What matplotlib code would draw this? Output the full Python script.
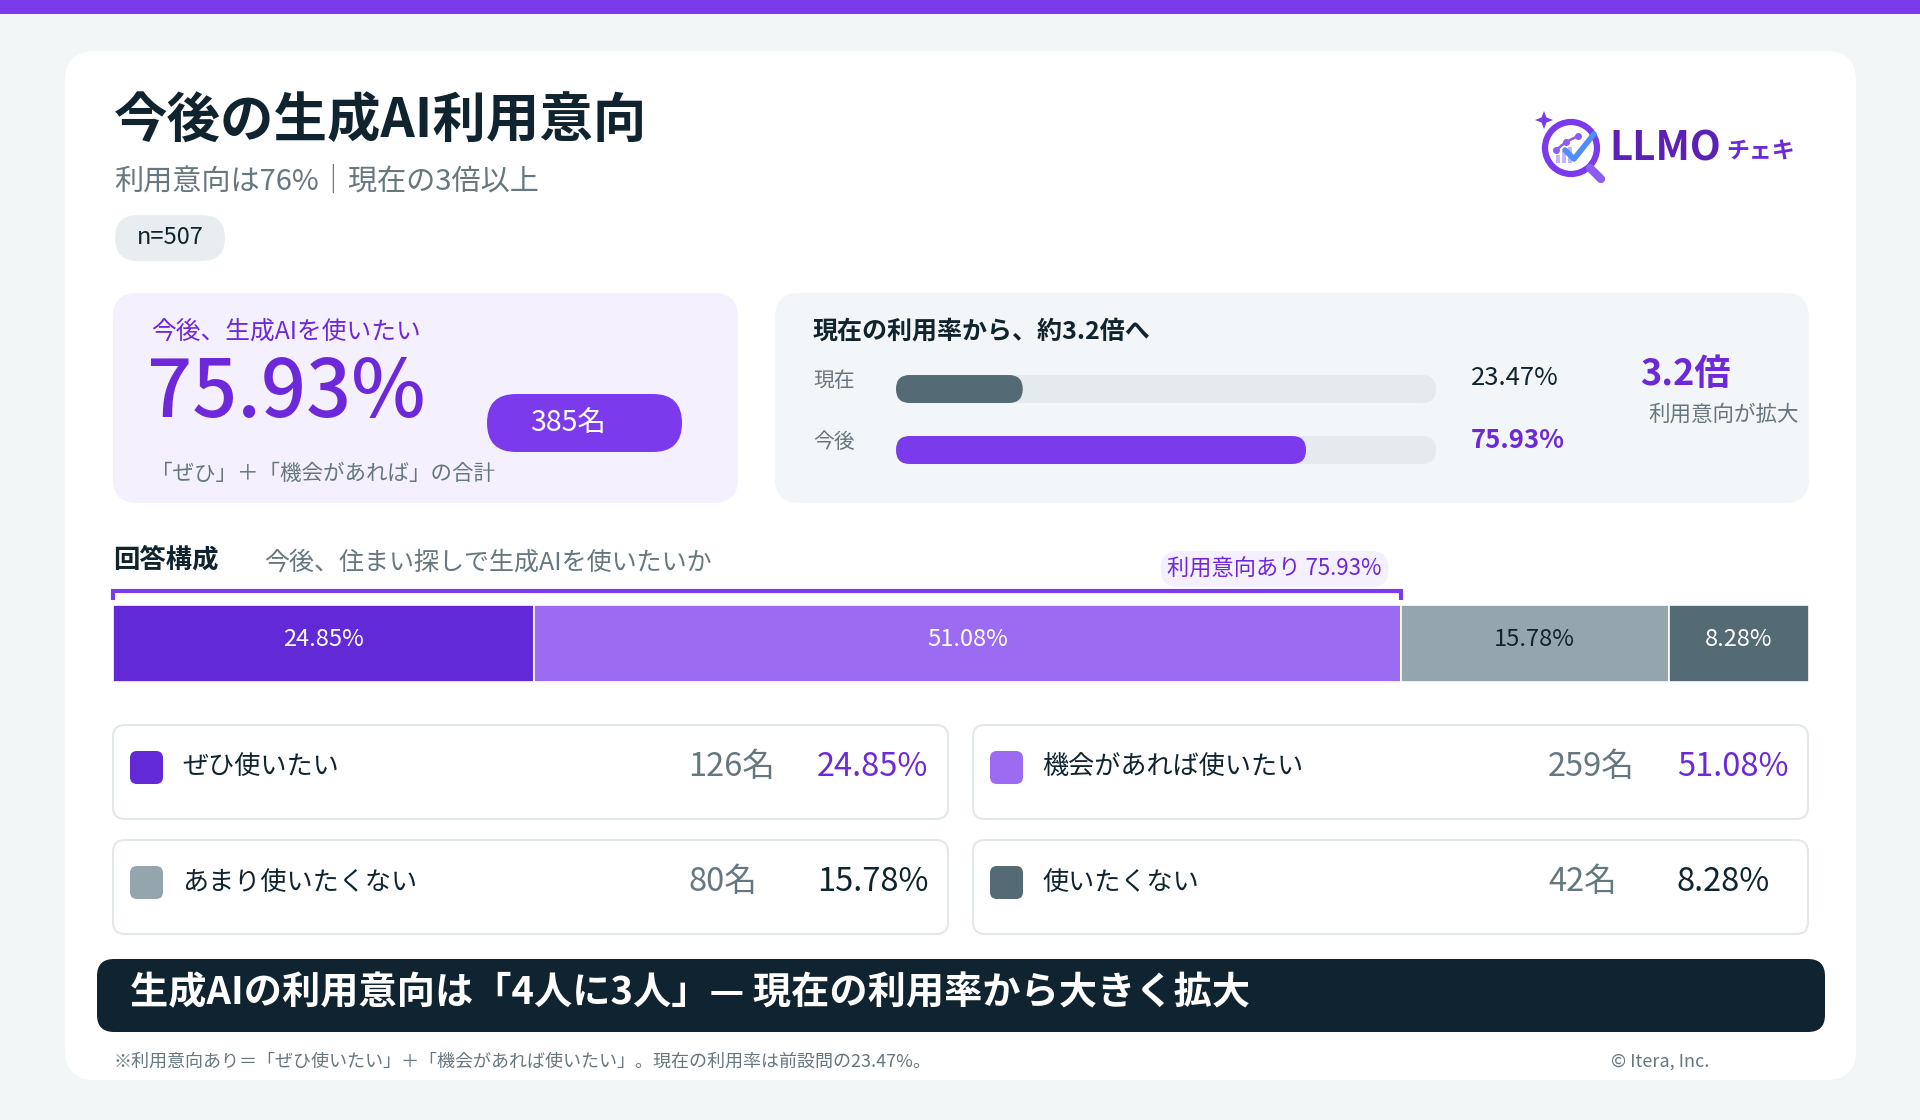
import matplotlib
matplotlib.use("Agg")
import matplotlib.pyplot as plt
from matplotlib.patches import FancyBboxPatch, Rectangle, Circle, Polygon
import numpy as np

plt.rcParams['font.family'] = ['Noto Sans CJK JP', 'DejaVu Sans']

# ---------------- data ----------------
categories = ['ぜひ使いたい', '機会があれば使いたい', 'あまり使いたくない', '使いたくない']
counts = [126, 259, 80, 42]
shares = [24.85, 51.08, 15.78, 8.28]
seg_colors = ['#6229d6', '#9b6bf2', '#95a5ad', '#546a74']
seg_label_colors = ['white', 'white', '#10242f', 'white']
pct_colors = ['#6d28d9', '#6d28d9', '#10242f', '#10242f']

compare_labels = ['現在', '今後']
compare_values = [23.47, 75.93]
compare_colors = ['#546a74', '#7c3aed']
compare_text_colors = ['#10242f', '#6d28d9']
compare_weights = ['normal', 'bold']

n_total = 507
intent_share = 75.93
intent_count = 385
multiple = 3.2

# ---------------- layout ----------------
W, H = 1920, 1120
DARK = '#10242f'
GRAY = '#66777f'
PURPLE = '#7c3aed'
PURPLE_T = '#6d28d9'

fig = plt.figure(figsize=(19.2, 11.2), dpi=100)
fig.patch.set_facecolor('#f3f6f7')
ax = fig.add_axes([0, 0, 1, 1])
ax.set_xlim(0, W)
ax.set_ylim(H, 0)
ax.axis('off')


def rbox(x, y, w, h, r, fc, ec='none', lw=0, z=1):
    ax.add_patch(FancyBboxPatch((x, y), w, h, boxstyle=f"round,pad=0,rounding_size={r}",
                                fc=fc, ec=ec, lw=lw, zorder=z))


def txt(x, y, s, size, color=DARK, ha='left', weight='normal', va='center', z=5):
    ax.text(x, y, s, fontsize=size, color=color, ha=ha, va=va, fontweight=weight, zorder=z)


def sub_axes(x, y, w, h):
    a = fig.add_axes([x / W, 1 - (y + h) / H, w / W, h / H])
    a.axis('off')
    return a


# top bar & card
ax.add_patch(Rectangle((0, 0), W, 14, fc=PURPLE, ec='none', zorder=1))
rbox(65, 51, 1791, 1029, 30, 'white')

# title block
txt(114, 122, '今後の生成AI利用意向', 38.5, DARK, weight='bold')
txt(114, 182, '利用意向は76%｜現在の3倍以上', 21, GRAY)
rbox(115, 215, 110, 46, 23, '#e8eef0', z=2)
txt(170, 238, f'n={n_total}', 17, DARK, ha='center')

# logo
ax.add_patch(Circle((1571, 148), 26, fc='none', ec='#7c3aed', lw=4.5, zorder=3))
ax.plot([1590, 1601], [168, 179], color='#8b5cf6', lw=6, solid_capstyle='round', zorder=3)
for i, hgt in enumerate([8, 12, 16]):
    ax.add_patch(Rectangle((1556 + i * 6, 163 - hgt), 4, hgt, fc='#c4b5fd', ec='none', zorder=3))
ax.plot([1556, 1566, 1578], [150, 142, 136], color='#8b5cf6', lw=1.8, zorder=3)
ax.scatter([1556, 1566, 1578], [150, 142, 136], s=16, color='#8b5cf6', zorder=4)
ax.plot([1565, 1574, 1594], [150, 159, 134], color='#4f8ef7', lw=4, solid_capstyle='round',
        solid_joinstyle='round', zorder=4)
sx, sy, s1, s2 = 1544, 120, 9, 2.5
ax.add_patch(Polygon([(sx, sy - s1), (sx + s2, sy - s2), (sx + s1, sy), (sx + s2, sy + s2),
                      (sx, sy + s1), (sx - s2, sy + s2), (sx - s1, sy), (sx - s2, sy - s2)],
                     fc='#7c3aed', ec='none', zorder=4))
txt(1609, 149, 'LLMO', 29, '#5b21b6', weight='bold')
txt(1726, 152, 'チェキ', 16.5, '#6d28d9', weight='bold')

# left KPI card
rbox(113, 293, 625, 210, 24, '#f4f0fd')
txt(151, 332, '今後、生成AIを使いたい', 17.8, PURPLE_T)
txt(147, 395, f'{intent_share:.2f}%', 57, PURPLE_T, weight='medium')
rbox(487, 394, 195, 58, 29, PURPLE, z=2)
txt(568, 423, f'{intent_count}名', 20.5, 'white', ha='center')
txt(151, 474, '「ぜひ」＋「機会があれば」の合計', 15.5, GRAY)

# right comparison card
rbox(775, 293, 1034, 210, 24, '#f3f6f8')
txt(813, 332, f'現在の利用率から、約{multiple}倍へ', 18, DARK, weight='bold')
label_y = [381, 442]
value_y = [378, 440]
for i, lab in enumerate(compare_labels):
    txt(813, label_y[i], lab, 15, GRAY)
    txt(1471, value_y[i], f'{compare_values[i]:.2f}%', 18.5, compare_text_colors[i],
        weight=compare_weights[i])
txt(1640, 375, f'{multiple}倍', 26, PURPLE_T, weight='bold')
txt(1648, 415, '利用意向が拡大', 15.5, GRAY)

cax = sub_axes(896, 370, 540, 100)
cax.set_xlim(0, 100)
cax.set_ylim(100, 0)
asp = (540 / 100) / 1.0
row_c = [19, 80]
bh = 28
for i, v in enumerate(compare_values):
    cax.add_patch(FancyBboxPatch((0, row_c[i] - bh / 2), 100, bh,
                                 boxstyle=f"round,pad=0,rounding_size={13.9 / asp}",
                                 mutation_aspect=asp, fc='#e5eaee', ec='none'))
    cax.add_patch(FancyBboxPatch((0, row_c[i] - bh / 2), v, bh,
                                 boxstyle=f"round,pad=0,rounding_size={13.9 / asp}",
                                 mutation_aspect=asp, fc=compare_colors[i], ec='none'))

# composition section
txt(113, 560, '回答構成', 19, DARK, weight='bold')
txt(264, 563, '今後、住まい探しで生成AIを使いたいか', 18, GRAY)

sax = sub_axes(113, 550, 1696, 132)
sax.set_xlim(0, sum(shares))
sax.set_ylim(132, 0)
lefts = np.concatenate([[0], np.cumsum(shares)[:-1]])
sax.barh(93.5, shares, left=lefts, height=77, color=seg_colors, edgecolor='white', linewidth=1.2)
for i, v in enumerate(shares):
    sax.text(lefts[i] + v / 2, 90, f'{v:.2f}%', fontsize=17, color=seg_label_colors[i],
             ha='center', va='center')
sax.plot([0, 0, intent_share, intent_share], [50, 41, 41, 50], color=PURPLE, lw=3,
         solid_capstyle='butt', solid_joinstyle='miter', clip_on=False)
sax.annotate(f'利用意向あり {intent_share:.2f}%', xy=(intent_share, 19), xytext=(-19, 0),
             textcoords='offset pixels', ha='right', va='center', fontsize=16, color=PURPLE_T,
             bbox=dict(boxstyle='round,pad=0.3,rounding_size=0.8', fc='#f4f0fd', ec='none'),
             annotation_clip=False)

# legend cards
card_x = [113, 973]
card_y = [725, 840]
cw, ch = 835, 94
for i, cat in enumerate(categories):
    x = card_x[i % 2]
    y = card_y[i // 2]
    rbox(x, y, cw, ch, 12, 'white', ec='#e3e8eb', lw=1.5)
    rbox(x + 17, y + 26, 33, 33, 7, seg_colors[i], z=3)
    txt(x + 69, y + 42, cat, 18.8, DARK)
    txt(x + 575, y + 42, f'{counts[i]}名', 23.5, GRAY)
    txt(x + 704, y + 42, f'{shares[i]:.2f}%', 23.5, pct_colors[i])

# banner
rbox(97, 959, 1728, 73, 17, '#0f2430')
txt(130, 993, '生成AIの利用意向は「4人に3人」— 現在の利用率から大きく拡大', 27.5, 'white', weight='bold')

# footnote
txt(113, 1062, '※利用意向あり＝「ぜひ使いたい」＋「機会があれば使いたい」。現在の利用率は前設問の23.47%。',
    13, GRAY)
txt(1611, 1062, '© Itera, Inc.', 13, GRAY)

fig.savefig('out.png', dpi=100, facecolor=fig.get_facecolor())
